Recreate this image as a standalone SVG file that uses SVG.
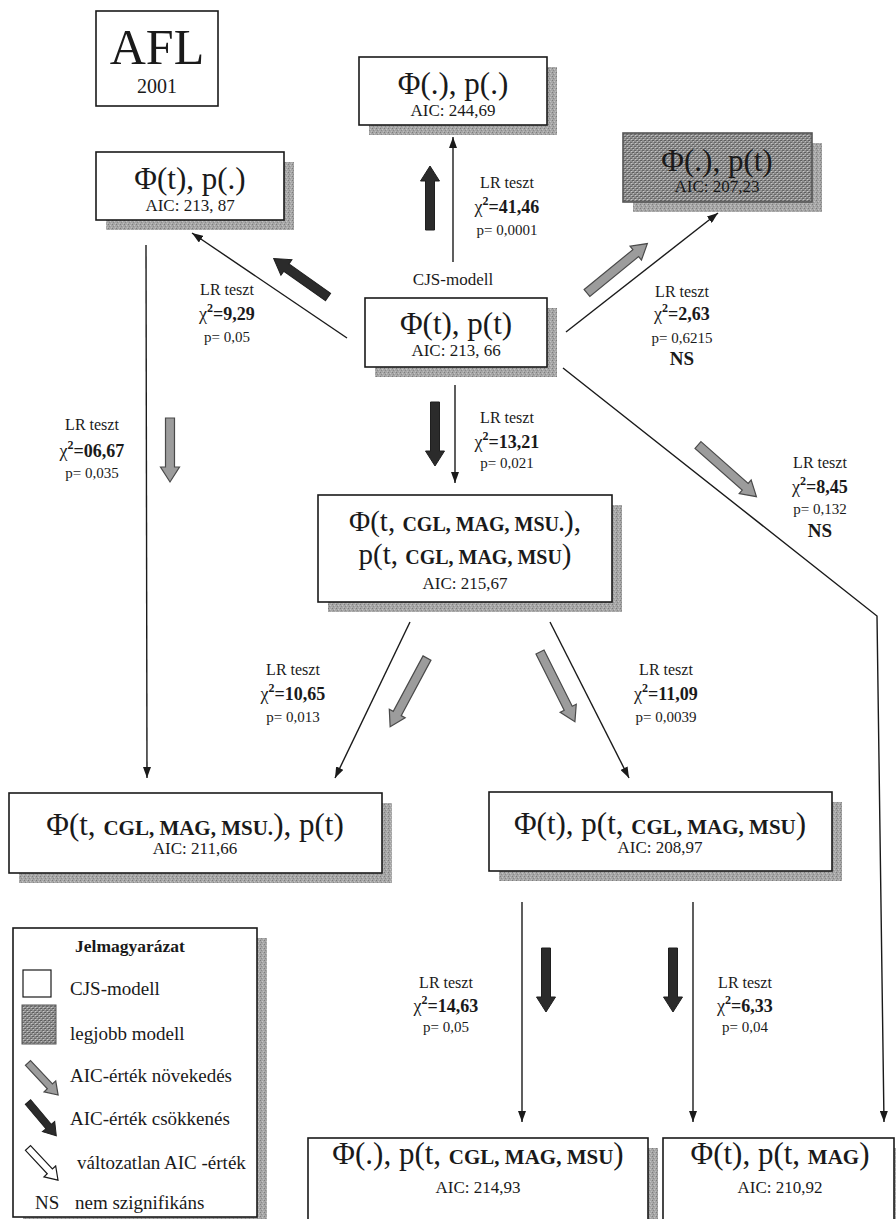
<svg xmlns="http://www.w3.org/2000/svg" width="896" height="1219" viewBox="0 0 896 1219" font-family="'Liberation Serif','Times New Roman',serif">
<defs>
<style>
text{font-family:"Liberation Serif","Times New Roman",serif;fill:#1a1a1a;text-anchor:middle}
.box{fill:#fff;stroke:#1a1a1a;stroke-width:1.6}
.shadow{fill:url(#grain)}
.main{font-size:31px}
.main2{font-size:29px}
.sc{font-size:21px;font-weight:bold}
.sc2{font-size:20px;font-weight:bold}
.aic{font-size:17px}
.lr{font-size:16px}
.chi{font-size:18px;font-weight:bold}
.sup{font-size:12px}
.pv{font-size:15px}
.ns{font-size:19px;font-weight:bold}
.leg{font-size:19px;text-anchor:start}
.conn{fill:none;stroke:#1a1a1a;stroke-width:1.4;marker-end:url(#ah)}
.dark{fill:#2b2b2b;stroke:#1f1f1f;stroke-width:1}
.gray{fill:#9c9c9c;stroke:#4a4a4a;stroke-width:1.2}
.white{fill:#fff;stroke:#1a1a1a;stroke-width:1.2}
</style>
<pattern id="grain" width="4" height="4" patternUnits="userSpaceOnUse">
<rect width="4" height="4" fill="#a6a6a6"/>
<rect x="0" y="0" width="1" height="1" fill="#7d7d7d"/>
<rect x="2" y="1" width="1" height="1" fill="#c4c4c4"/>
<rect x="1" y="2" width="1" height="1" fill="#8a8a8a"/>
<rect x="3" y="3" width="1" height="1" fill="#bdbdbd"/>
</pattern>
<pattern id="best" width="4" height="4" patternUnits="userSpaceOnUse">
<rect width="4" height="4" fill="#8e8e8e"/>
<rect x="0" y="0" width="2" height="1" fill="#5f5f5f"/>
<rect x="2" y="2" width="2" height="1" fill="#686868"/>
<rect x="1" y="1" width="1" height="1" fill="#bdbdbd"/>
<rect x="3" y="3" width="1" height="1" fill="#c6c6c6"/>
<rect x="0" y="3" width="1" height="1" fill="#a9a9a9"/>
</pattern>
<marker id="ah" viewBox="0 0 11 8" refX="11" refY="4" markerWidth="11" markerHeight="8" markerUnits="userSpaceOnUse" orient="auto">
<path d="M0,0 L11,4 L0,8 z" fill="#1a1a1a"/>
</marker>
<path id="blk64" d="M0,-4.5 L49,-4.5 L49,-9.5 L64,0 L49,9.5 L49,4.5 L0,4.5 Z"/>
<path id="blk78" d="M0,-4.5 L63,-4.5 L63,-9 L78,0 L63,9 L63,4.5 L0,4.5 Z"/>
<path id="blk44" d="M0,-3.5 L32,-3.5 L32,-8 L44,0 L32,8 L32,3.5 L0,3.5 Z"/>
</defs>
<rect width="896" height="1219" fill="#fff"/>

<!-- connectors -->
<g id="connectors">
<path class="conn" d="M453,262 L453,137"/>
<path class="conn" d="M347,338 L192,233"/>
<path class="conn" d="M566,332 L718,213"/>
<path class="conn" d="M455,385 L455,483"/>
<path class="conn" d="M563,368 L877,616 L884,1122"/>
<path class="conn" d="M146,245 L147,778"/>
<path class="conn" d="M410,622 L335,778"/>
<path class="conn" d="M550,622 L629,778"/>
<path class="conn" d="M522,902 L522,1122"/>
<path class="conn" d="M693,902 L693,1122"/>
</g>

<!-- block arrows -->
<g id="aic-arrows">
<use href="#blk64" class="dark" transform="translate(430,230) rotate(-90)"/>
<use href="#blk64" class="dark" transform="translate(328,297) rotate(-144.7) scale(1.04,1)"/>
<use href="#blk78" class="gray" transform="translate(587,293) rotate(-39.3)"/>
<use href="#blk64" class="dark" transform="translate(435,402) rotate(90)"/>
<use href="#blk64" class="gray" transform="translate(170,418) rotate(90)"/>
<use href="#blk78" class="gray" transform="translate(698,445) rotate(41.5)"/>
<use href="#blk78" class="gray" transform="translate(427,658) rotate(118.2)"/>
<use href="#blk78" class="gray" transform="translate(540,652) rotate(63.4)"/>
<use href="#blk64" class="dark" transform="translate(546,948) rotate(90)"/>
<use href="#blk64" class="dark" transform="translate(673,948) rotate(90)"/>
</g>

<!-- test labels -->
<g id="labels">
<text class="lr" x="507" y="188">LR teszt</text>
<text class="chi" x="507" y="213"><tspan font-weight="normal">χ</tspan><tspan class="sup" dy="-8">2</tspan><tspan dy="8">=41,46</tspan></text>
<text class="pv" x="507" y="235">p= 0,0001</text>

<text class="lr" x="227" y="295">LR teszt</text>
<text class="chi" x="227" y="320"><tspan font-weight="normal">χ</tspan><tspan class="sup" dy="-8">2</tspan><tspan dy="8">=9,29</tspan></text>
<text class="pv" x="227" y="342">p= 0,05</text>

<text class="lr" x="682" y="297">LR teszt</text>
<text class="chi" x="682" y="320"><tspan font-weight="normal">χ</tspan><tspan class="sup" dy="-8">2</tspan><tspan dy="8">=2,63</tspan></text>
<text class="pv" x="682" y="343">p= 0,6215</text>
<text class="ns" x="682" y="365">NS</text>

<text class="lr" x="507" y="423">LR teszt</text>
<text class="chi" x="507" y="448"><tspan font-weight="normal">χ</tspan><tspan class="sup" dy="-8">2</tspan><tspan dy="8">=13,21</tspan></text>
<text class="pv" x="507" y="468">p= 0,021</text>

<text class="lr" x="92" y="430">LR teszt</text>
<text class="chi" x="92" y="457"><tspan font-weight="normal">χ</tspan><tspan class="sup" dy="-8">2</tspan><tspan dy="8">=06,67</tspan></text>
<text class="pv" x="92" y="478">p= 0,035</text>

<text class="lr" x="820" y="468">LR teszt</text>
<text class="chi" x="820" y="493"><tspan font-weight="normal">χ</tspan><tspan class="sup" dy="-8">2</tspan><tspan dy="8">=8,45</tspan></text>
<text class="pv" x="820" y="514">p= 0,132</text>
<text class="ns" x="820" y="537">NS</text>

<text class="lr" x="293" y="675">LR teszt</text>
<text class="chi" x="293" y="700"><tspan font-weight="normal">χ</tspan><tspan class="sup" dy="-8">2</tspan><tspan dy="8">=10,65</tspan></text>
<text class="pv" x="293" y="722">p= 0,013</text>

<text class="lr" x="666" y="675">LR teszt</text>
<text class="chi" x="666" y="700"><tspan font-weight="normal">χ</tspan><tspan class="sup" dy="-8">2</tspan><tspan dy="8">=11,09</tspan></text>
<text class="pv" x="666" y="722">p= 0,0039</text>

<text class="lr" x="446" y="988">LR teszt</text>
<text class="chi" x="446" y="1012"><tspan font-weight="normal">χ</tspan><tspan class="sup" dy="-8">2</tspan><tspan dy="8">=14,63</tspan></text>
<text class="pv" x="446" y="1032">p= 0,05</text>

<text class="lr" x="745" y="988">LR teszt</text>
<text class="chi" x="745" y="1012"><tspan font-weight="normal">χ</tspan><tspan class="sup" dy="-8">2</tspan><tspan dy="8">=6,33</tspan></text>
<text class="pv" x="745" y="1032">p= 0,04</text>

<text x="453" y="285" font-size="17">CJS-modell</text>
</g>

<!-- title -->
<g id="title">
<rect class="box" x="96" y="11" width="122" height="95"/>
<text x="157" y="64" font-size="50">AFL</text>
<text x="157" y="93" font-size="20">2001</text>
</g>

<g id="n-phi-t-p-dot">
<rect class="shadow" x="106" y="162" width="188" height="68"/>
<rect class="box" x="96" y="152" width="188" height="68"/>
<text class="main" x="190" y="189">Φ(t), p(.)</text>
<text class="aic" x="190" y="211">AIC: 213, 87</text>
</g>

<g id="n-phi-dot-p-dot">
<rect class="shadow" x="369" y="67" width="188" height="68"/>
<rect class="box" x="359" y="57" width="188" height="68"/>
<text class="main" x="453" y="94">Φ(.), p(.)</text>
<text class="aic" x="453" y="116">AIC: 244,69</text>
</g>

<g id="n-phi-dot-p-t">
<rect class="shadow" x="633" y="143" width="189" height="69"/>
<rect x="623" y="133" width="189" height="69" fill="url(#best)" stroke="#555" stroke-width="1.6"/>
<text class="main" x="717" y="171" fill="#3a3a3a">Φ(.), p(t)</text>
<text class="aic" x="717" y="192" fill="#3a3a3a">AIC: 207,23</text>
</g>

<g id="n-phi-t-p-t">
<rect class="shadow" x="375" y="308" width="182" height="69"/>
<rect class="box" x="365" y="298" width="182" height="69"/>
<text class="main" x="456" y="334">Φ(t), p(t)</text>
<text class="aic" x="456" y="356">AIC: 213, 66</text>
</g>

<g id="n-big">
<rect class="shadow" x="328" y="505" width="294" height="107"/>
<rect class="box" x="318" y="495" width="294" height="107"/>
<text class="main2" x="465" y="531">Φ(t, <tspan class="sc2">CGL, MAG, MSU.</tspan>),</text>
<text class="main2" x="465" y="564">p(t, <tspan class="sc2">CGL, MAG, MSU</tspan>)</text>
<text class="aic" x="465" y="589">AIC: 215,67</text>
</g>

<g id="n-left-mid">
<rect class="shadow" x="19" y="803" width="373" height="80"/>
<rect class="box" x="9" y="793" width="373" height="80"/>
<text class="main" x="195" y="835">Φ(t, <tspan class="sc">CGL, MAG, MSU.</tspan>), p(t)</text>
<text class="aic" x="195" y="854">AIC: 211,66</text>
</g>

<g id="n-right-mid">
<rect class="shadow" x="499" y="802" width="343" height="79"/>
<rect class="box" x="489" y="792" width="343" height="79"/>
<text class="main" x="660" y="834">Φ(t), p(t, <tspan class="sc">CGL, MAG, MSU</tspan>)</text>
<text class="aic" x="660" y="853">AIC: 208,97</text>
</g>

<g id="n-bottom-left">
<rect class="shadow" x="318" y="1148" width="340" height="90"/>
<rect class="box" x="308" y="1138" width="340" height="90"/>
<text class="main" x="478" y="1164">Φ(.), p(t, <tspan class="sc">CGL, MAG, MSU</tspan>)</text>
<text class="aic" x="478" y="1193">AIC: 214,93</text>
</g>

<g id="n-bottom-right">
<rect class="shadow" x="673" y="1148" width="231" height="90"/>
<rect class="box" x="663" y="1138" width="231" height="90"/>
<text class="main" x="780" y="1164">Φ(t), p(t, <tspan class="sc">MAG</tspan>)</text>
<text class="aic" x="780" y="1193">AIC: 210,92</text>
</g>

<g id="legend">
<rect class="shadow" x="23" y="938" width="244" height="289"/>
<rect class="box" x="13" y="928" width="244" height="289"/>
<text x="130" y="952" font-size="17.5" font-weight="bold">Jelmagyarázat</text>
<rect x="23" y="970" width="28" height="27" fill="#fff" stroke="#1a1a1a" stroke-width="1.2"/>
<text class="leg" x="70" y="995">CJS-modell</text>
<rect x="22" y="1005" width="34" height="39" fill="url(#best)" stroke="#555" stroke-width="1"/>
<text class="leg" x="70" y="1040">legjobb modell</text>
<use href="#blk44" class="gray" transform="translate(28,1063) rotate(46.8)"/>
<text class="leg" x="70" y="1082">AIC-érték növekedés</text>
<use href="#blk44" class="dark" transform="translate(28,1102) rotate(50)"/>
<text class="leg" x="70" y="1125">AIC-érték csökkenés</text>
<use href="#blk44" class="white" transform="translate(28,1148) rotate(47)"/>
<text class="leg" x="77" y="1169">változatlan AIC -érték</text>
<text class="leg" x="35" y="1209" font-size="18">NS</text>
<text class="leg" x="75" y="1209">nem szignifikáns</text>
</g>
</svg>
